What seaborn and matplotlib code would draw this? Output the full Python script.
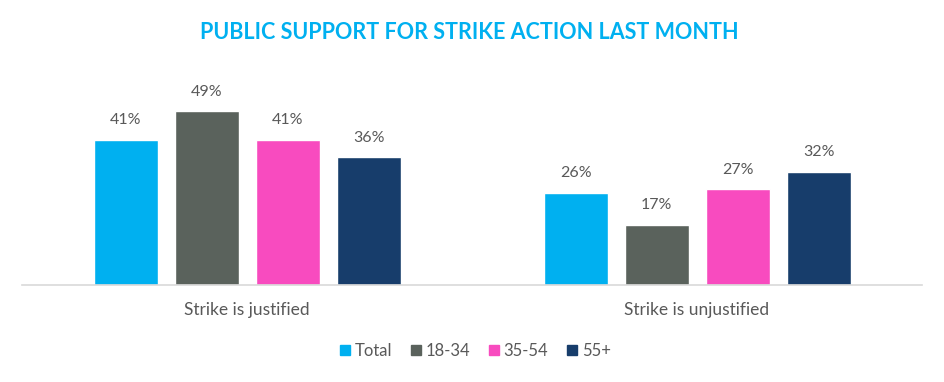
import seaborn as sns
import matplotlib.pyplot as plt
import pandas as pd

# values
categories = ['Strike is justified', 'Strike is unjustified']
groups = ['Total', '18-34', '35-54', '55+']
total = [41, 26]
age_18_34 = [49, 17]
age_35_54 = [41, 27]
age_55_plus = [36, 32]

palette = {
    'Total': '#00B0F0',
    '18-34': '#5A625C',
    '35-54': '#F84BBF',
    '55+': '#173D6B',
}
text_color = '#595959'

rows = []
for grp, vals in zip(groups, [total, age_18_34, age_35_54, age_55_plus]):
    for cat, v in zip(categories, vals):
        rows.append({'category': cat, 'group': grp, 'value': v})
df = pd.DataFrame(rows)

sns.set_style('white')
plt.rcParams['font.family'] = ['Lato', 'DejaVu Sans']

fig = plt.figure(figsize=(9.45, 3.82), dpi=100)
ax = fig.add_axes([0.0233, 0.254, 0.9524, 0.51])

sns.barplot(data=df, x='category', y='value', hue='group', hue_order=groups,
            palette=palette, width=0.72, gap=0.21, saturation=1,
            legend=False, ax=ax)

for cont in ax.containers:
    ax.bar_label(cont, labels=[f'{int(v)}%' for v in cont.datavalues],
                 padding=9, fontsize=11.5, color=text_color)

ax.set_xlim(-0.5, 1.5)
ax.set_ylim(0, 55)
ax.set_xlabel('')
ax.set_ylabel('')
ax.set_yticks([])
ax.tick_params(axis='x', length=0, pad=12, labelsize=12.5, labelcolor=text_color)
for side in ['top', 'left', 'right']:
    ax.spines[side].set_visible(False)
ax.spines['bottom'].set_color('#D9D9D9')
ax.spines['bottom'].set_linewidth(1.2)

handles = [plt.Rectangle((0, 0), 1, 1, color=palette[g]) for g in groups]
fig.legend(handles, groups, loc='center', bbox_to_anchor=(0.503, 0.081), ncol=4,
           frameon=False, fontsize=12, handlelength=0.6, handleheight=0.6,
           handletextpad=0.3, columnspacing=1.1, labelcolor=text_color)

fig.text(0.497, 0.916, 'PUBLIC SUPPORT FOR STRIKE ACTION LAST MONTH',
         ha='center', va='center', fontsize=15.5, fontweight='bold', color='#00B0F0')

fig.savefig('out.png', dpi=100)
